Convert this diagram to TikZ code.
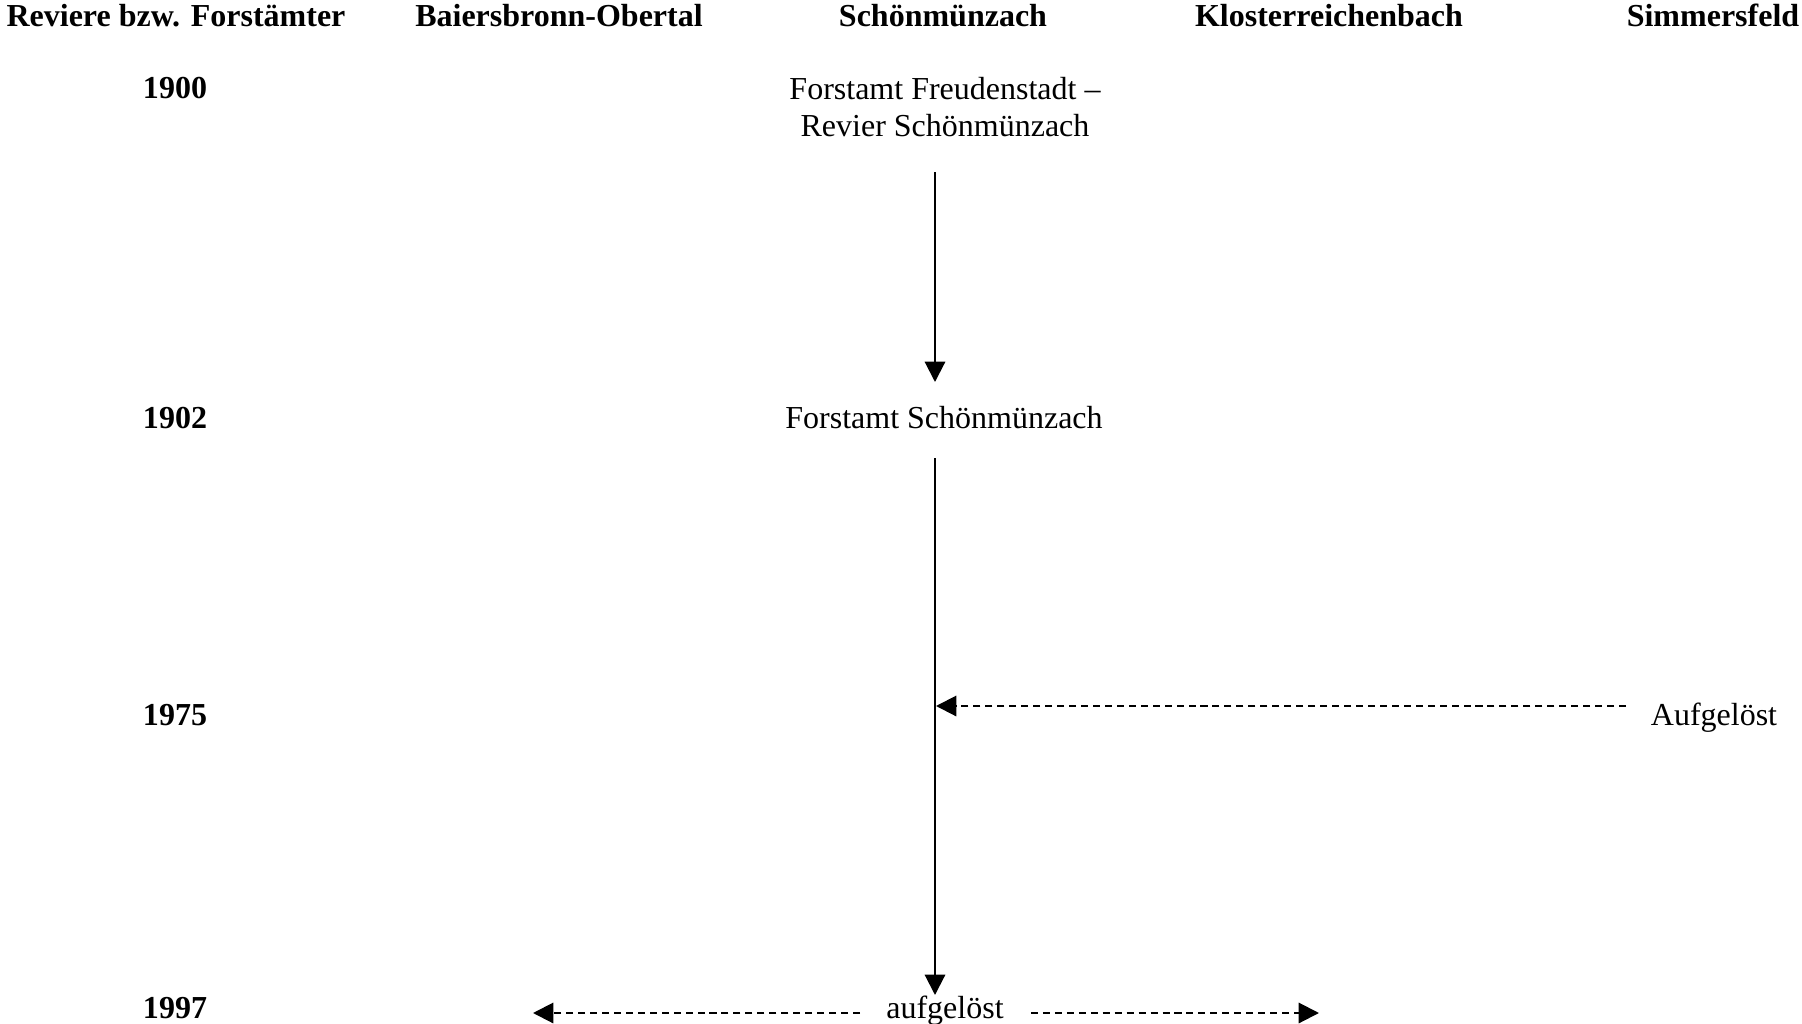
\documentclass[tikz,border=0pt]{standalone}
\usepackage{fontspec}
\setmainfont{Liberation Serif}
\usetikzlibrary{arrows.meta}

\begin{document}
\begin{tikzpicture}[x=0.01cm, y=-0.01cm,
  every node/.style={font=\fontsize{9.1}{10.5}\selectfont, inner sep=0pt, anchor=base},
  head/.style={font=\fontsize{9.1}{10.5}\selectfont\bfseries},
  conn/.style={-{Triangle[length=5.8pt,width=5.8pt]}, line width=0.6pt},
  dconn/.style={conn, dash pattern=on 2pt off 1.4pt}]
  \useasboundingbox (0,0) rectangle (1802,1024);
  % Column heads
  \node[head] (hdrRevier)  at (176,26)  {Reviere bzw. Forstämter};
  \node[head] (hdrBaiers)  at (559,26)  {Baiersbronn-Obertal};
  \node[head] (hdrSchoen)  at (943,26)  {Schönmünzach};
  \node[head] (hdrKloster) at (1329,26) {Klosterreichenbach};
  \node[head] (hdrSimmers) at (1713,26) {Simmersfeld};
  % Years
  \node[head] (yr1900) at (175,98)   {1900};
  \node[head] (yr1902) at (175,428)  {1902};
  \node[head] (yr1975) at (175,725)  {1975};
  \node[head] (yr1997) at (175,1018) {1997};
  % Entries
  \node[align=center, anchor=center] (fa1900) at (945,107) {Forstamt Freudenstadt --\\Revier Schönmünzach};
  \node (fa1902)  at (944,428)  {Forstamt Schönmünzach};
  \node (auf1975) at (1714,725) {Aufgelöst};
  \node (auf1997) at (945,1018) {aufgelöst};
  % Connector ends
  \coordinate (a1) at (935,172);
  \coordinate (a2) at (935,382);
  \coordinate (b1) at (935,458);
  \coordinate (b2) at (935,995);
  \coordinate (c1) at (1626,706);
  \coordinate (c2) at (936,706);
  \coordinate (d1) at (860,1013);
  \coordinate (d2) at (533,1013);
  \coordinate (e1) at (1031,1013);
  \coordinate (e2) at (1319,1013);
  % Arrows
  \draw[conn] (a1) -- (a2);
  \draw[conn] (b1) -- (b2);
  \draw[dconn] (c1) -- (c2);
  \draw[dconn] (d1) -- (d2);
  \draw[dconn] (e1) -- (e2);
\end{tikzpicture}
\end{document}
